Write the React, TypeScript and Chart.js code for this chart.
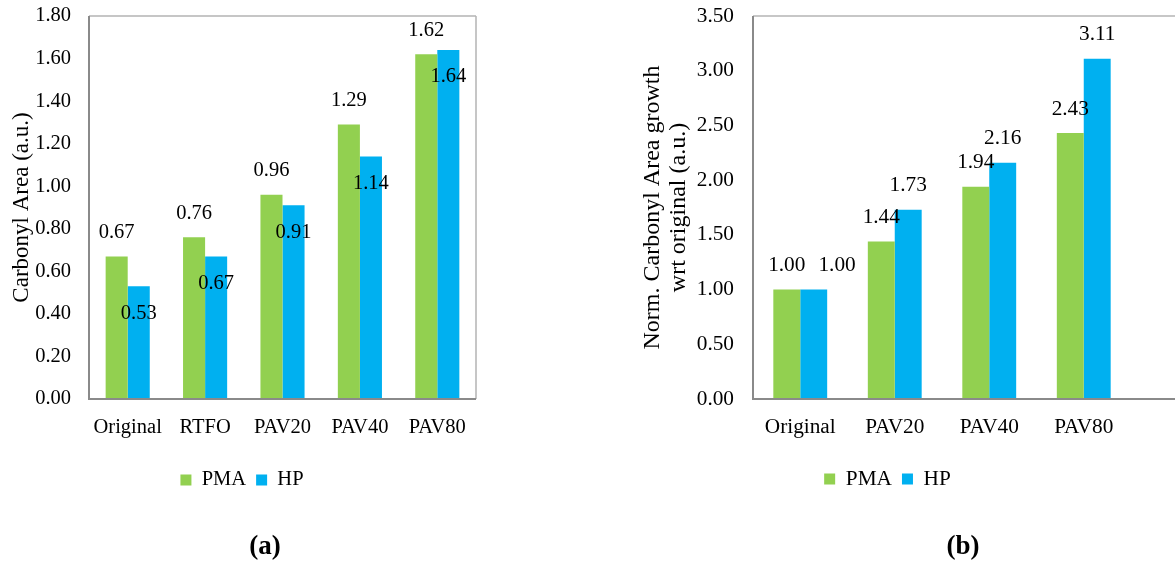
import React, { useEffect, useRef } from "react";
import { Chart, registerables } from "chart.js";

Chart.register(...registerables);

// ---------- data ----------
const categoriesA = ["Original", "RTFO", "PAV20", "PAV40", "PAV80"];
const pmaA = [0.67, 0.76, 0.96, 1.29, 1.62];
const hpA = [0.53, 0.67, 0.91, 1.14, 1.64];

const categoriesB = ["Original", "PAV20", "PAV40", "PAV80"];
const pmaB = [1.0, 1.44, 1.94, 2.43];
const hpB = [1.0, 1.73, 2.16, 3.11];

const seriesNames = ["PMA", "HP"];
const yTitleA = "Carbonyl Area (a.u.)";
const yTitleB = ["Norm. Carbonyl Area growth", "wrt original (a.u.)"];
const panelLabels = ["(a)", "(b)"];

// ---------- styles ----------
const FONT = '"Liberation Serif", "Times New Roman", serif';
const GREEN = "#92D050";
const BLUE = "#00B0F0";
const H = 561;

function makeOverlay(labelFont: number, pmaOffset: number, hpOffset: number, openRight: boolean) {
  return {
    id: "overlay",
    afterDatasetsDraw(chart: any) {
      const { ctx, chartArea: a } = chart;
      ctx.save();
      const rightEdge = openRight ? chart.width : a.right;
      // light top / right border
      ctx.lineWidth = 1.5;
      ctx.strokeStyle = "#b4b4b4";
      ctx.beginPath();
      ctx.moveTo(a.left, a.top);
      ctx.lineTo(rightEdge, a.top);
      if (!openRight) {
        ctx.moveTo(a.right, a.top);
        ctx.lineTo(a.right, a.bottom);
      }
      ctx.stroke();
      // darker left / bottom axis
      ctx.lineWidth = 2;
      ctx.strokeStyle = "#8a8a8a";
      ctx.beginPath();
      ctx.moveTo(a.left, a.top);
      ctx.lineTo(a.left, a.bottom);
      ctx.lineTo(rightEdge, a.bottom);
      ctx.stroke();

      // data labels
      ctx.font = `${labelFont}px ${FONT}`;
      ctx.fillStyle = "#000";
      ctx.textAlign = "center";
      ctx.textBaseline = "middle";
      const m0 = chart.getDatasetMeta(0);
      const m1 = chart.getDatasetMeta(1);
      const d0 = chart.data.datasets[0].data;
      const d1 = chart.data.datasets[1].data;
      for (let i = 0; i < d0.length; i++) {
        const e0 = m0.data[i];
        const e1 = m1.data[i];
        const t0 = Number(d0[i]).toFixed(2);
        const t1 = Number(d1[i]).toFixed(2);
        const x0 = e0.x;
        const y0 = e0.y + pmaOffset;
        let x1 = e1.x;
        const y1 = e1.y + hpOffset;
        const w0 = ctx.measureText(t0).width;
        const w1 = ctx.measureText(t1).width;
        if (Math.abs(y0 - y1) < labelFont * 0.9 && x0 + w0 / 2 > x1 - w1 / 2) {
          x1 = x0 + w0 / 2 + 13 + w1 / 2;
        }
        ctx.fillText(t0, x0, y0);
        ctx.fillText(t1, x1, y1);
      }
      ctx.restore();
    },
  };
}

type PanelProps = {
  left: number;
  width: number;
  categories: string[];
  pma: number[];
  hp: number[];
  yMax: number;
  yStep: number;
  yTitle: string | string[];
  titleSize: number;
  titleLineHeight: number;
  titlePadTop: number;
  fontSize: number;
  yAxisWidth: number;
  yTickGap: number;
  rightWidth: number;
  xAxisHeight: number;
  padTop: number;
  padBottom: number;
  pmaOffset: number;
  hpOffset: number;
  openRight: boolean;
};

function Panel(p: PanelProps) {
  const ref = useRef<HTMLCanvasElement>(null);
  useEffect(() => {
    const font = { family: FONT, size: p.fontSize };
    const chart = new Chart(ref.current as HTMLCanvasElement, {
      type: "bar",
      data: {
        labels: p.categories,
        datasets: [
          {
            label: seriesNames[0],
            data: p.pma,
            backgroundColor: GREEN,
            categoryPercentage: 0.57,
            barPercentage: 1,
            yAxisID: "y",
          },
          {
            label: seriesNames[1],
            data: p.hp,
            backgroundColor: BLUE,
            categoryPercentage: 0.57,
            barPercentage: 1,
            yAxisID: "y",
          },
        ],
      },
      options: {
        responsive: false,
        animation: false,
        devicePixelRatio: 1,
        layout: { padding: { left: 0, top: p.padTop, right: 0, bottom: p.padBottom } },
        scales: {
          x: {
            grid: { display: false, drawTicks: false },
            border: { display: false },
            ticks: { font, color: "#000", padding: 16, maxRotation: 0, autoSkip: false },
            afterFit: (s: any) => {
              s.height = p.xAxisHeight;
            },
          },
          y: {
            position: "left",
            min: 0,
            max: p.yMax,
            grid: { display: false, drawTicks: true, tickLength: p.yTickGap },
            border: { display: false },
            ticks: {
              stepSize: p.yStep,
              font,
              color: "#000",
              padding: 0,
              callback: (v: any) => Number(v).toFixed(2),
            },
            title: {
              display: true,
              text: p.yTitle as any,
              color: "#000",
              font: { family: FONT, size: p.titleSize, lineHeight: p.titleLineHeight },
              padding: { top: p.titlePadTop, bottom: 0 },
            },
            afterFit: (s: any) => {
              s.width = p.yAxisWidth;
            },
          },
          yRight: {
            position: "right",
            display: true,
            grid: { display: false, drawTicks: false },
            border: { display: false },
            ticks: { display: false, padding: 0 },
            afterFit: (s: any) => {
              s.width = p.rightWidth;
            },
          },
        },
        plugins: {
          legend: {
            position: "bottom",
            labels: { boxWidth: 11, boxHeight: 11, padding: 10, font, color: "#000" },
          },
          tooltip: { enabled: false },
        },
      } as any,
      plugins: [makeOverlay(p.fontSize, p.pmaOffset, p.hpOffset, p.openRight)],
    });
    return () => chart.destroy();
  }, []);
  return (
    <canvas
      ref={ref}
      width={p.width}
      height={H}
      style={{ position: "absolute", left: p.left, top: 0, width: p.width, height: H }}
    />
  );
}

export default function App() {
  const labelStyle = (cx: number): React.CSSProperties => ({
    position: "absolute",
    left: cx - 50,
    top: 530,
    width: 100,
    lineHeight: "30px",
    textAlign: "center",
    fontFamily: FONT,
    fontWeight: "bold",
    fontSize: 27,
    color: "#000",
  });
  return (
    <div
      style={{
        position: "absolute",
        left: 0,
        top: 0,
        width: 1175,
        height: H,
        overflow: "hidden",
        background: "#fff",
      }}
    >
      <Panel
        left={0}
        width={484}
        categories={categoriesA}
        pma={pmaA}
        hp={hpA}
        yMax={1.8}
        yStep={0.2}
        yTitle={yTitleA}
        titleSize={23}
        titleLineHeight={1.2}
        titlePadTop={8}
        fontSize={20.5}
        yAxisWidth={89}
        yTickGap={18}
        rightWidth={8}
        xAxisHeight={60.75}
        padTop={16}
        padBottom={60.75}
        pmaOffset={-24}
        hpOffset={27}
        openRight={false}
      />
      <Panel
        left={600}
        width={575}
        categories={categoriesB}
        pma={pmaB}
        hp={hpB}
        yMax={3.5}
        yStep={0.5}
        yTitle={yTitleB}
        titleSize={24}
        titleLineHeight={26 / 24}
        titlePadTop={40}
        fontSize={21.3}
        yAxisWidth={153}
        yTickGap={19}
        rightWidth={44}
        xAxisHeight={59.35}
        padTop={16}
        padBottom={61.35}
        pmaOffset={-24}
        hpOffset={-24}
        openRight={true}
      />
      <div style={labelStyle(265)}>{panelLabels[0]}</div>
      <div style={labelStyle(963)}>{panelLabels[1]}</div>
    </div>
  );
}
